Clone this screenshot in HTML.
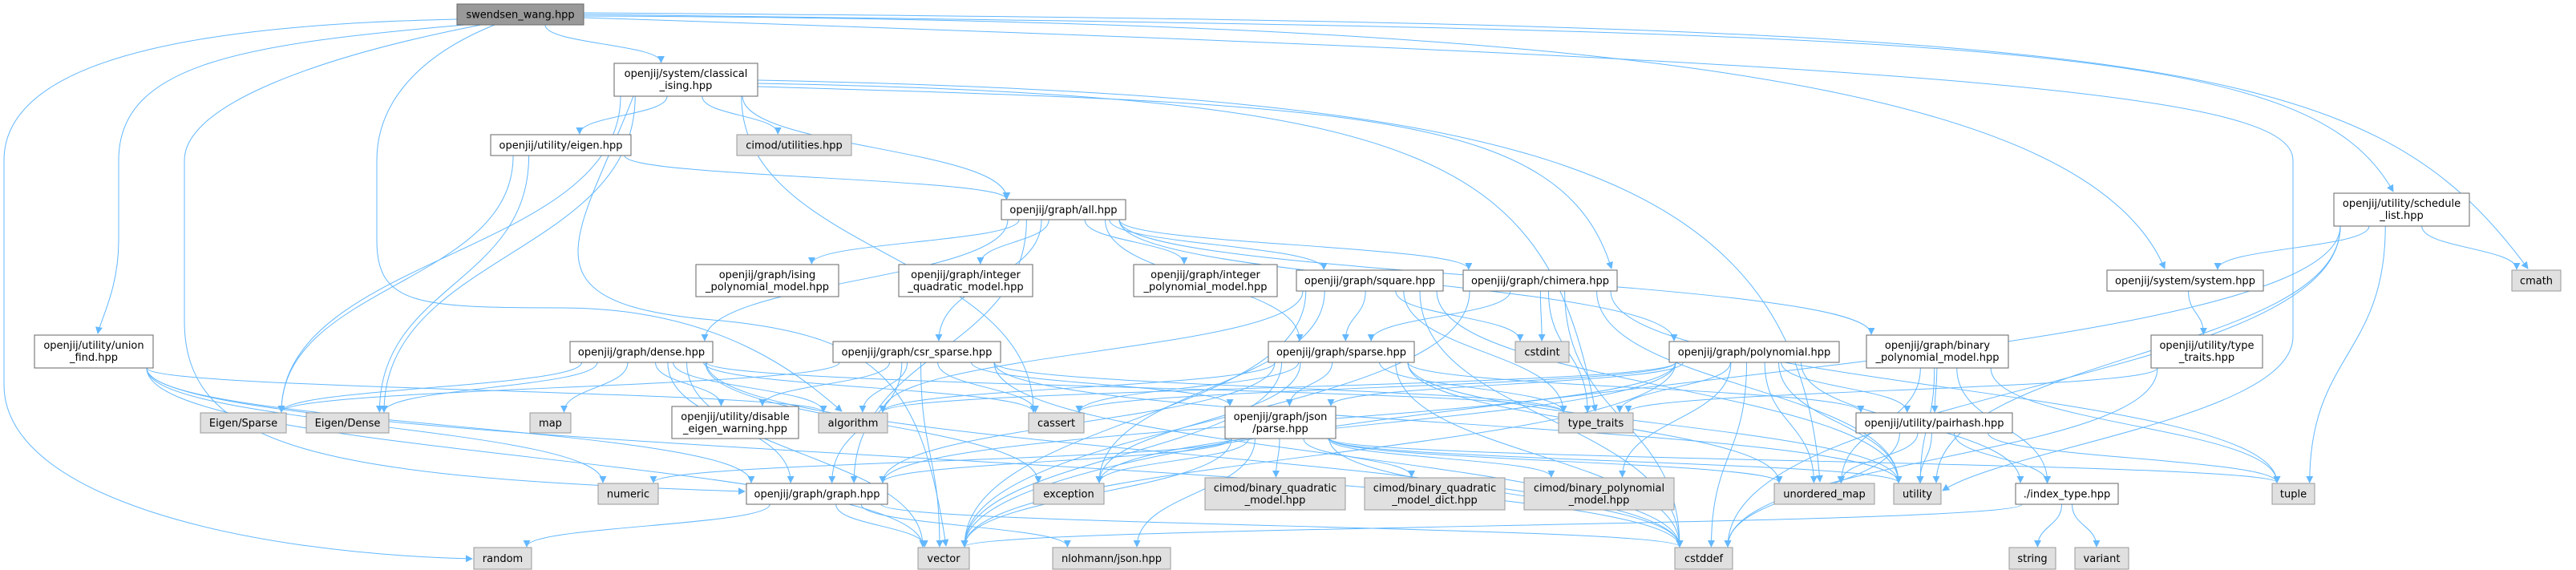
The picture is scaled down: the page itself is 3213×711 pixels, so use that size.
<!DOCTYPE html>
<html><head><meta charset="utf-8"><style>
html,body{margin:0;padding:0;background:#fff;}
svg{display:block;}
text{font-family:"DejaVu Sans","Liberation Sans",sans-serif;font-size:13px;fill:#000;}
</style></head><body>
<svg id="g" width="3213" height="711" viewBox="0 0 3213 711" xmlns="http://www.w3.org/2000/svg">
<defs><marker id="ah" viewBox="0 0 10 10" refX="9" refY="5" markerWidth="9" markerHeight="9" markerUnits="userSpaceOnUse" orient="auto"><path d="M0,0 L10,5 L0,10 z" fill="#63b8ff"/></marker></defs>
<g id="edges" fill="none" stroke="#63b8ff" stroke-width="1"></g>
<g id="nodes">
<rect x="570" y="5" width="158" height="26" fill="#999" stroke="#666"/><text x="649" y="22.5" text-anchor="middle">swendsen_wang.hpp</text>
<rect x="766" y="79" width="179" height="41" fill="#fff" stroke="#666"/><text x="855.5" y="96" text-anchor="middle">openjij/system/classical</text><text x="855.5" y="111" text-anchor="middle">_ising.hpp</text>
<rect x="612" y="168" width="175" height="26" fill="#fff" stroke="#666"/><text x="699.5" y="185.5" text-anchor="middle">openjij/utility/eigen.hpp</text>
<rect x="43" y="418" width="148" height="41" fill="#fff" stroke="#666"/><text x="117" y="435" text-anchor="middle">openjij/utility/union</text><text x="117" y="450" text-anchor="middle">_find.hpp</text>
<rect x="250" y="515" width="107" height="25" fill="#e0e0e0" stroke="#999"/><text x="303.5" y="532" text-anchor="middle">Eigen/Sparse</text>
<rect x="382" y="515" width="103" height="25" fill="#e0e0e0" stroke="#999"/><text x="433.5" y="532" text-anchor="middle">Eigen/Dense</text>
<rect x="661" y="515" width="51" height="25" fill="#e0e0e0" stroke="#999"/><text x="686.5" y="532" text-anchor="middle">map</text>
<rect x="711" y="426" width="178" height="26" fill="#fff" stroke="#666"/><text x="800" y="443.5" text-anchor="middle">openjij/graph/dense.hpp</text>
<rect x="746" y="603" width="75" height="26" fill="#e0e0e0" stroke="#999"/><text x="783.5" y="620.5" text-anchor="middle">numeric</text>
<rect x="591" y="683" width="72" height="27" fill="#e0e0e0" stroke="#999"/><text x="627" y="701" text-anchor="middle">random</text>
<rect x="919" y="168" width="143" height="26" fill="#e0e0e0" stroke="#999"/><text x="990.5" y="185.5" text-anchor="middle">cimod/utilities.hpp</text>
<rect x="1249" y="249" width="155" height="25" fill="#fff" stroke="#666"/><text x="1326.5" y="266" text-anchor="middle">openjij/graph/all.hpp</text>
<rect x="868" y="330" width="178" height="40" fill="#fff" stroke="#666"/><text x="957" y="347" text-anchor="middle">openjij/graph/ising</text><text x="957" y="362" text-anchor="middle">_polynomial_model.hpp</text>
<rect x="1121" y="330" width="167" height="40" fill="#fff" stroke="#666"/><text x="1204.5" y="347" text-anchor="middle">openjij/graph/integer</text><text x="1204.5" y="362" text-anchor="middle">_quadratic_model.hpp</text>
<rect x="1414" y="330" width="179" height="40" fill="#fff" stroke="#666"/><text x="1503.5" y="347" text-anchor="middle">openjij/graph/integer</text><text x="1503.5" y="362" text-anchor="middle">_polynomial_model.hpp</text>
<rect x="1039" y="426" width="209" height="26" fill="#fff" stroke="#666"/><text x="1143.5" y="443.5" text-anchor="middle">openjij/graph/csr_sparse.hpp</text>
<rect x="838" y="507" width="158" height="40" fill="#fff" stroke="#666"/><text x="917" y="524" text-anchor="middle">openjij/utility/disable</text><text x="917" y="539" text-anchor="middle">_eigen_warning.hpp</text>
<rect x="1021" y="515" width="86" height="25" fill="#e0e0e0" stroke="#999"/><text x="1064" y="532" text-anchor="middle">algorithm</text>
<rect x="1283" y="515" width="69" height="25" fill="#e0e0e0" stroke="#999"/><text x="1317.5" y="532" text-anchor="middle">cassert</text>
<rect x="1528" y="507" width="138" height="40" fill="#fff" stroke="#666"/><text x="1597" y="524" text-anchor="middle">openjij/graph/json</text><text x="1597" y="539" text-anchor="middle">/parse.hpp</text>
<rect x="931" y="603" width="176" height="26" fill="#fff" stroke="#666"/><text x="1019" y="620.5" text-anchor="middle">openjij/graph/graph.hpp</text>
<rect x="1289" y="603" width="88" height="26" fill="#e0e0e0" stroke="#999"/><text x="1333" y="620.5" text-anchor="middle">exception</text>
<rect x="1503" y="596" width="175" height="40" fill="#e0e0e0" stroke="#999"/><text x="1590.5" y="613" text-anchor="middle">cimod/binary_quadratic</text><text x="1590.5" y="628" text-anchor="middle">_model.hpp</text>
<rect x="1145" y="683" width="64" height="27" fill="#e0e0e0" stroke="#999"/><text x="1177" y="701" text-anchor="middle">vector</text>
<rect x="1313" y="683" width="147" height="27" fill="#e0e0e0" stroke="#999"/><text x="1386.5" y="701" text-anchor="middle">nlohmann/json.hpp</text>
<rect x="1582" y="426" width="182" height="26" fill="#fff" stroke="#666"/><text x="1673" y="443.5" text-anchor="middle">openjij/graph/sparse.hpp</text>
<rect x="1617" y="337" width="183" height="26" fill="#fff" stroke="#666"/><text x="1708.5" y="354.5" text-anchor="middle">openjij/graph/square.hpp</text>
<rect x="1825" y="337" width="192" height="26" fill="#fff" stroke="#666"/><text x="1921" y="354.5" text-anchor="middle">openjij/graph/chimera.hpp</text>
<rect x="1890" y="426" width="67" height="26" fill="#e0e0e0" stroke="#999"/><text x="1923.5" y="443.5" text-anchor="middle">cstdint</text>
<rect x="2082" y="426" width="212" height="26" fill="#fff" stroke="#666"/><text x="2188" y="443.5" text-anchor="middle">openjij/graph/polynomial.hpp</text>
<rect x="2328" y="418" width="177" height="41" fill="#fff" stroke="#666"/><text x="2416.5" y="435" text-anchor="middle">openjij/graph/binary</text><text x="2416.5" y="450" text-anchor="middle">_polynomial_model.hpp</text>
<rect x="1944" y="515" width="93" height="25" fill="#e0e0e0" stroke="#999"/><text x="1990.5" y="532" text-anchor="middle">type_traits</text>
<rect x="2315" y="515" width="195" height="25" fill="#fff" stroke="#666"/><text x="2412.5" y="532" text-anchor="middle">openjij/utility/pairhash.hpp</text>
<rect x="1702" y="596" width="175" height="40" fill="#e0e0e0" stroke="#999"/><text x="1789.5" y="613" text-anchor="middle">cimod/binary_quadratic</text><text x="1789.5" y="628" text-anchor="middle">_model_dict.hpp</text>
<rect x="1901" y="596" width="187" height="40" fill="#e0e0e0" stroke="#999"/><text x="1994.5" y="613" text-anchor="middle">cimod/binary_polynomial</text><text x="1994.5" y="628" text-anchor="middle">_model.hpp</text>
<rect x="2213" y="603" width="125" height="26" fill="#e0e0e0" stroke="#999"/><text x="2275.5" y="620.5" text-anchor="middle">unordered_map</text>
<rect x="2362" y="603" width="59" height="26" fill="#e0e0e0" stroke="#999"/><text x="2391.5" y="620.5" text-anchor="middle">utility</text>
<rect x="2089" y="683" width="72" height="27" fill="#e0e0e0" stroke="#999"/><text x="2125" y="701" text-anchor="middle">cstddef</text>
<rect x="2911" y="241" width="169" height="41" fill="#fff" stroke="#666"/><text x="2995.5" y="258" text-anchor="middle">openjij/utility/schedule</text><text x="2995.5" y="273" text-anchor="middle">_list.hpp</text>
<rect x="2628" y="337" width="195" height="26" fill="#fff" stroke="#666"/><text x="2725.5" y="354.5" text-anchor="middle">openjij/system/system.hpp</text>
<rect x="2683" y="418" width="139" height="41" fill="#fff" stroke="#666"/><text x="2752.5" y="435" text-anchor="middle">openjij/utility/type</text><text x="2752.5" y="450" text-anchor="middle">_traits.hpp</text>
<rect x="3133" y="337" width="61" height="26" fill="#e0e0e0" stroke="#999"/><text x="3163.5" y="354.5" text-anchor="middle">cmath</text>
<rect x="2514" y="603" width="128" height="26" fill="#fff" stroke="#666"/><text x="2578" y="620.5" text-anchor="middle">./index_type.hpp</text>
<rect x="2834" y="603" width="53" height="26" fill="#e0e0e0" stroke="#999"/><text x="2860.5" y="620.5" text-anchor="middle">tuple</text>
<rect x="2506" y="683" width="58" height="27" fill="#e0e0e0" stroke="#999"/><text x="2535" y="701" text-anchor="middle">string</text>
<rect x="2588" y="683" width="67" height="27" fill="#e0e0e0" stroke="#999"/><text x="2621.5" y="701" text-anchor="middle">variant</text>
</g>
</svg>
<script>
var N={sw:[570,5,728,31],ci:[766,79,945,120],eig:[612,168,787,194],uf:[43,418,191,459],es:[250,515,357,540],ed:[382,515,485,540],map:[661,515,712,540],dense:[711,426,889,452],num:[746,603,821,629],rnd:[591,683,663,710],cu:[919,168,1062,194],all:[1249,249,1404,274],isp:[868,330,1046,370],iqm:[1121,330,1288,370],ipm:[1414,330,1593,370],csr:[1039,426,1248,452],dis:[838,507,996,547],alg:[1021,515,1107,540],cas:[1283,515,1352,540],jp:[1528,507,1666,547],gr:[931,603,1107,629],exc:[1289,603,1377,629],bqm:[1503,596,1678,636],vec:[1145,683,1209,710],nl:[1313,683,1460,710],sp:[1582,426,1764,452],sq:[1617,337,1800,363],ch:[1825,337,2017,363],cint:[1890,426,1957,452],poly:[2082,426,2294,452],bpm:[2328,418,2505,459],tt:[1944,515,2037,540],ph:[2315,515,2510,540],bqd:[1702,596,1877,636],cbpm:[1901,596,2088,636],um:[2213,603,2338,629],ut:[2362,603,2421,629],cdef:[2089,683,2161,710],sl:[2911,241,3080,282],sys:[2628,337,2823,363],utt:[2683,418,2822,459],cm:[3133,337,3194,363],idx:[2514,603,2642,629],tup:[2834,603,2887,629],str:[2506,683,2564,710],vr:[2588,683,2655,710]};
var E={sw:"ci",ci:"eig cu all es ed cas",eig:"es ed all",uf:"alg num vec cdef gr",all:"isp iqm ipm csr dense sp sq ch poly bpm gr",dense:"es ed map dis alg cas tt gr vec exc cdef",csr:"es dis alg cas gr vec cdef tt ut jp",sp:"jp alg cas gr tt ph cdef um ut vec exc",sq:"sp cint tt ut cdef exc vec alg",ch:"sp cint tt cdef tup vec ut",poly:"jp alg cas gr tt ph cbpm um ut cdef vec idx exc",bpm:"ph um idx ut tup",jp:"gr num exc bqm bqd cbpm nl vec cdef um ut tup",gr:"rnd vec cdef nl",ph:"um ut idx cdef tup",idx:"str vr vec",sys:"utt",utt:"tt cdef",sl:"sys cm tup ut cdef vec"};
var C=[
"M570,24 C300,30 5,60 5,200 L5,480 C5,620 300,690 589,697",
"M580,31 C300,55 148,80 148,200 L148,300 C148,360 125,400 122,416",
"M600,31 C400,70 230,130 230,200 L230,400 C230,560 400,596 929,613",
"M617,31 C520,70 470,130 470,200 L470,300 C470,380 520,384 700,384 C900,384 1000,470 1050,513",
"M728,20 C2000,25 2600,100 2700,335",
"M728,18 C2500,40 2880,50 2985,239",
"M728,16 C2700,30 2950,60 3153,335",
"M728,22 C2500,80 2860,120 2860,200 L2860,420 C2860,520 2500,560 2423,612",
"M945,104 C1800,120 1930,200 1990,513",
"M945,100 C1900,120 2240,200 2270,601",
"M945,108 C1700,130 1950,140 2010,335",
"M790,120 C720,300 640,380 900,400 C1100,420 1150,480 1180,681"
];
var g=document.getElementById('edges'),s='';
function cl(v,a,b){return Math.max(a,Math.min(b,v));}
C.forEach(function(d){s+='<path d="'+d+'" marker-end="url(#ah)"/>';});
for(var k in E){var a=N[k],cx=(a[0]+a[2])/2;E[k].split(' ').forEach(function(t){var b=N[t],tcx=(b[0]+b[2])/2;
var sx=cl(cx+(tcx-cx)*0.15,a[0]+8,a[2]-8),sy=a[3];
var tx=cl(tcx+(cx-tcx)*0.15,b[0]+6,b[2]-6),ty=b[1];
var dy=ty-sy;
s+='<path d="M'+sx+','+sy+' C'+sx+','+(sy+dy*0.5)+' '+tx+','+(ty-dy*0.5)+' '+tx+','+(ty-1)+'" marker-end="url(#ah)"/>';});}
g.innerHTML=s;
</script>
</body></html>
